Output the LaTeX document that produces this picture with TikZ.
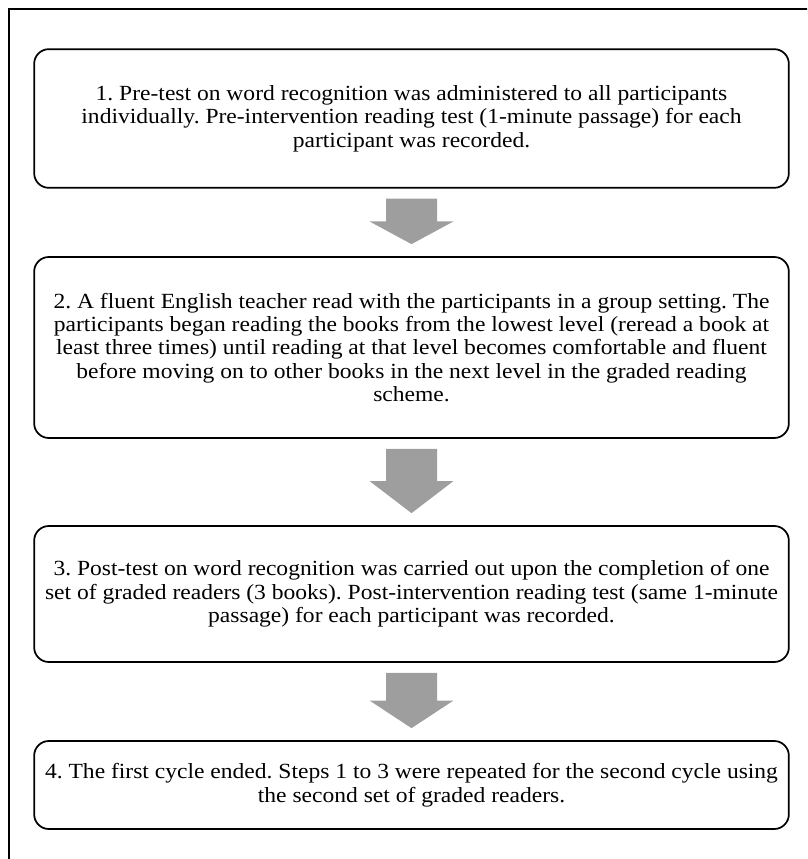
\documentclass[tikz,border=0pt]{standalone}
\usepackage{fontspec}
\setmainfont{Liberation Serif}[FakeStretch=1.09]
\usepackage{tikz}
\usetikzlibrary{calc}

\definecolor{arrowgray}{RGB}{158,158,158}

\tikzset{
  stepbox/.style={draw, line width=1.3pt, rounded corners=11pt, fill=white,
    minimum width=566pt, align=center, inner sep=0.75pt,
    font=\fontsize{16.2}{17.6}\selectfont\frenchspacing},
}

% block arrow from the bottom of one box to the top of the next
\newcommand{\stepArrow}[2]{%
  \path ($(#1.south)+(0,10)$) coordinate (#1-top)
        ($(#2.north)+(0,-12)$) coordinate (#1-tip)
        ($(#1-top)!0.5!(#1-tip)$) coordinate (#1-mid);
  \fill[arrowgray] ($(#1-top)+(-25.5,0)$) -- ($(#1-top)+(25.5,0)$) -- ($(#1-mid)+(25.5,0)$)
    -- ($(#1-mid)+(42,0)$) -- (#1-tip) -- ($(#1-mid)+(-42,0)$) -- ($(#1-mid)+(-25.5,0)$) -- cycle;}

\begin{document}
\begin{tikzpicture}[x=0.75pt,y=0.75pt,yscale=-1,xscale=1]
\useasboundingbox (0,0) rectangle (807,859);
\clip (0,0) rectangle (807,859);

%Outer frame (runs off the right and bottom edges)
\draw [line width=1.5pt] (9,900) -- (9,9) -- (850,9) ;

% Text Node
\node [stepbox, minimum height=104pt] (box1) at (411.5,118.5) {1. Pre-test on word recognition was administered to all participants\\individually. Pre-intervention reading test (1-minute passage) for each\\participant was recorded.};
% Text Node
\node [stepbox, minimum height=135.75pt] (box2) at (411.5,347.5) {2. A fluent English teacher read with the participants in a group setting. The\\participants began reading the books from the lowest level (reread a book at\\least three times) until reading at that level becomes comfortable and fluent\\before moving on to other books in the next level in the graded reading\\scheme.};
% Text Node
\node [stepbox, minimum height=102pt] (box3) at (411.5,594) {3. Post-test on word recognition was carried out upon the completion of one\\set of graded readers (3 books). Post-intervention reading test (same 1-minute\\passage) for each participant was recorded.};
% Text Node
\node [stepbox, minimum height=66pt] (box4) at (411.5,785) {4. The first cycle ended. Steps 1 to 3 were repeated for the second cycle using\\the second set of graded readers.};

%Block arrows
\stepArrow{box1}{box2}
\stepArrow{box2}{box3}
\stepArrow{box3}{box4}
\end{tikzpicture}
\end{document}
